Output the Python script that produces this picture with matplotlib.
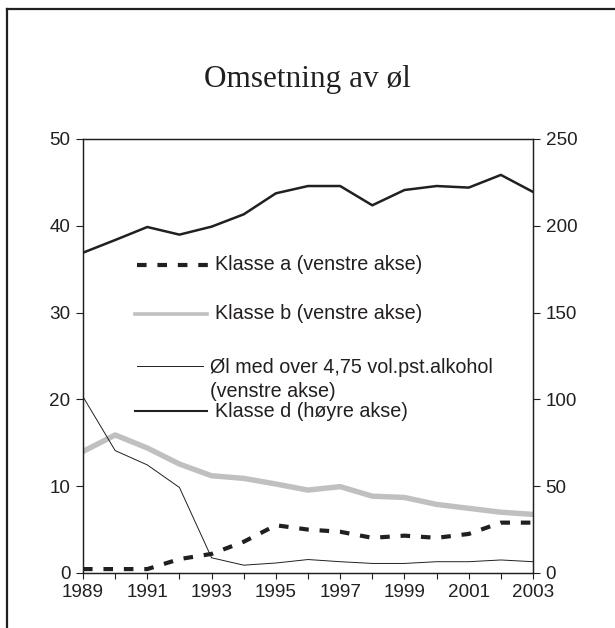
import matplotlib
matplotlib.use('Agg')
import matplotlib.pyplot as plt
from matplotlib.lines import Line2D
import numpy as np

# Values
years = list(range(1989, 2004))
klasse_a = [0.45, 0.45, 0.45, 1.6, 2.2, 3.6, 5.5, 5.0, 4.75, 4.05, 4.3, 4.05, 4.5, 5.8, 5.8]
klasse_b = [14.0, 15.9, 14.4, 12.55, 11.2, 10.9, 10.25, 9.55, 9.95, 8.85, 8.7, 7.9, 7.45, 7.0, 6.75]
ol_sterk = [20.3, 14.1, 12.45, 9.85, 1.75, 0.9, 1.15, 1.55, 1.3, 1.1, 1.1, 1.3, 1.3, 1.5, 1.3]
klasse_d = [184.5, 191.8, 199.3, 194.9, 199.5, 206.6, 218.7, 222.9, 222.9, 211.8, 220.6, 222.9, 222.0, 229.3, 219.5]

left_ticks = [0, 10, 20, 30, 40, 50]
right_ticks = [0, 50, 100, 150, 200, 250]
year_labels = [1989, 1991, 1993, 1995, 1997, 1999, 2001, 2003]

legend_labels = ['Klasse a (venstre akse)',
                 'Klasse b (venstre akse)',
                 'Øl med over 4,75 vol.pst.alkohol\n(venstre akse)',
                 'Klasse d (høyre akse)']

ink = '#231f20'
gray = '#c0c0c0'
plt.rcParams['font.family'] = ['Liberation Sans', 'DejaVu Sans']
plt.rcParams['font.size'] = 13.6
plt.rcParams['text.color'] = ink
plt.rcParams['axes.edgecolor'] = ink
plt.rcParams['xtick.color'] = ink
plt.rcParams['ytick.color'] = ink

fig = plt.figure(figsize=(6.15, 6.28), dpi=100)
ax = fig.add_axes([0.135, 0.0876, 0.7317, 0.6911])
ax2 = ax.twinx()

ax.plot(years, klasse_b, color=gray, lw=3.9, solid_joinstyle='round', zorder=2)
ax.plot(years, ol_sterk, color=ink, lw=0.7, zorder=3)
ax.plot(years, klasse_a, color=ink, lw=3.0, linestyle=(0, (2.3, 2.6)),
        dash_capstyle='butt', zorder=4)
ax2.plot(years, klasse_d, color=ink, lw=1.8)

ax.set_xlim(1989, 2003)
ax.set_ylim(0, 50)
ax2.set_ylim(0, 250)
ax.set_yticks(left_ticks)
ax2.set_yticks(right_ticks)
ax.set_xticks(year_labels)
ax.set_xticks(years, minor=True)

for a in (ax, ax2):
    a.tick_params(direction='out', length=5, width=0.8, pad=4)
    a.tick_params(axis='x', which='both', length=4, width=0.8)
    for s in a.spines.values():
        s.set_linewidth(0.9)

# legend drawn by hand to match the spread out layout of the original
keys = [dict(color=ink, lw=3.0, linestyle=(0, (2.3, 2.6)), dash_capstyle='butt'),
        dict(color=gray, lw=2.6),
        dict(color=ink, lw=0.7),
        dict(color=ink, lw=1.5)]
key_y = [0.7097, 0.597, 0.477, 0.373]
key_x = [(0.12, 0.278), (0.116, 0.276), (0.12, 0.267), (0.116, 0.276)]
text_x = [0.293, 0.293, 0.282, 0.293]
for i, lab in enumerate(legend_labels):
    x0, x1 = key_x[i]
    ax.add_line(Line2D([x0, x1], [key_y[i], key_y[i]], transform=ax.transAxes, **keys[i]))
    if '\n' in lab:
        ax.text(text_x[i], key_y[i] + 0.018, lab, transform=ax.transAxes,
                va='top', ha='left', linespacing=1.32, fontsize=14.2)
    else:
        ax.text(text_x[i], key_y[i], lab, transform=ax.transAxes,
                va='center', ha='left', fontsize=14.2)

fig.text(0.5, 0.862, 'Omsetning av øl', ha='center', va='baseline',
         family=['Liberation Serif', 'DejaVu Serif'], fontsize=22.5)

# outer frame (top and left only, as in the original)
fig.add_artist(Line2D([0.0114, 1.0], [0.9849, 0.9849], transform=fig.transFigure,
                      color=ink, lw=1.6))
fig.add_artist(Line2D([0.0106, 0.0106], [0.0, 0.9849], transform=fig.transFigure,
                      color=ink, lw=1.6))

fig.savefig('out.png', dpi=100)
